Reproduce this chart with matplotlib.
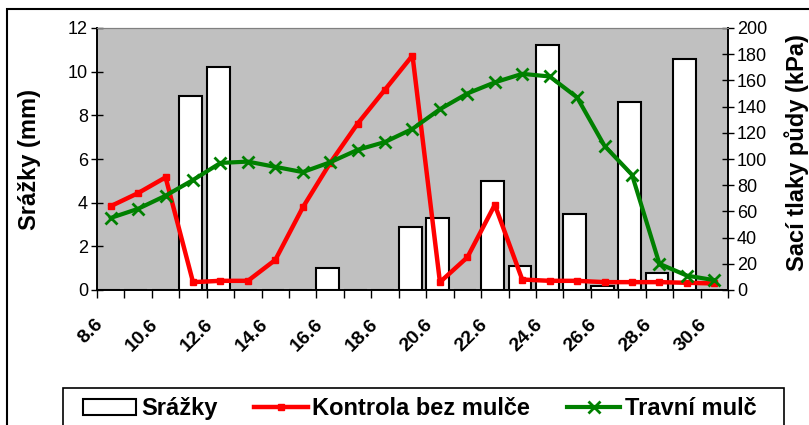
import matplotlib.pyplot as plt
from matplotlib.patches import Rectangle, Patch
from matplotlib.lines import Line2D
from matplotlib.transforms import ScaledTranslation

plt.rcParams['font.family'] = ['Liberation Sans', 'DejaVu Sans']

# dny (8.6. - 30.6.)
dates = ['8.6', '9.6', '10.6', '11.6', '12.6', '13.6', '14.6', '15.6', '16.6', '17.6',
         '18.6', '19.6', '20.6', '21.6', '22.6', '23.6', '24.6', '25.6', '26.6', '27.6',
         '28.6', '29.6', '30.6']

# srazky (mm)
srazky = [0, 0, 0, 8.9, 10.2, 0, 0, 0, 1.0, 0, 0, 2.9, 3.3, 0, 5.0, 1.1, 11.2, 3.5,
          0.2, 8.6, 0.8, 10.6, 0]

# saci tlaky (kPa)
kontrola = [64, 74, 86, 6, 7, 7, 23, 63, 97, 127, 153, 179, 6, 25, 65, 8, 7, 7,
            6, 6, 6, 5.5, 5]
travni = [55, 62, 72, 84, 97, 98, 94, 90, 97.5, 107, 113, 123, 138, 150, 158.5, 165,
          163, 147, 110, 88, 20, 11, 7.5]

x = list(range(len(dates)))

fig = plt.figure(figsize=(8.09, 4.25), dpi=100)
ax = fig.add_axes([97/809, 1 - 290/425, 631/809, 262/425])
ax2 = ax.twinx()

# bars (left axis)
ax.bar([i - 0.085 for i in x], srazky, width=0.83, color='white', edgecolor='black',
       linewidth=1.5, zorder=2)
ax.set_facecolor('#C0C0C0')
ax.set_xlim(-0.5, len(dates) - 0.5)
ax.set_ylim(0, 12)
ax.set_yticks(range(0, 13, 2))

# lines (right axis)
ax2.plot(x, kontrola, color='#FF0000', lw=3.2, marker='s', ms=5, zorder=3)
ax2.plot(x, travni, color='#008000', lw=3.0, marker='x', ms=9, mew=2, zorder=4)
ax2.set_ylim(0, 200)
ax2.set_yticks(range(0, 201, 20))

# osa x - carky na hranicich dnu, popisky kazdy druhy den
ax.set_xticks([i - 0.5 for i in x] + [len(dates) - 0.5])
ax.set_xticks(x[::2], labels=dates[::2], minor=True)
ax.tick_params(axis='x', which='major', direction='out', length=6, width=1, labelbottom=False)
ax.tick_params(axis='x', which='minor', length=0, pad=23)
for lab in ax.get_xticklabels(minor=True):
    lab.set_rotation(45)
    lab.set_ha('right')
    lab.set_va('center')
    lab.set_rotation_mode('anchor')
    lab.set_fontweight('bold')
    lab.set_fontsize(14)
    lab.set_transform(lab.get_transform() + ScaledTranslation(-0.1, 0, fig.dpi_scale_trans))

ax.tick_params(axis='y', direction='inout', length=9, width=1, labelsize=13, pad=2)
ax2.tick_params(axis='y', direction='inout', length=9, width=1, labelsize=13, pad=2)

for a in (ax, ax2):
    a.spines['top'].set_color('#808080')
    a.spines['left'].set_linewidth(1.2)
    a.spines['right'].set_linewidth(1.2)
    a.spines['bottom'].set_linewidth(1.2)

ax.set_ylabel('Srážky (mm)', fontsize=17, fontweight='bold')
ax.yaxis.set_label_coords(-0.089, 0.5)
ax2.set_ylabel('Sací tlaky půdy (kPa)', fontsize=17, fontweight='bold', rotation=90)
ax2.yaxis.set_label_coords(1.089, 0.525)

# ramecek grafu a legendy
fig.patches.append(Rectangle((7/809, -0.2), 1.0, 0.978 + 0.2, transform=fig.transFigure,
                             fill=False, edgecolor='black', lw=1.5, clip_on=False))
fig.patches.append(Rectangle((63/809, -0.1), (784-63)/809, 0.1 + 1 - 388/425,
                             transform=fig.transFigure, fill=False, edgecolor='black',
                             lw=1.2, clip_on=False))

handles = [Patch(facecolor='white', edgecolor='black', linewidth=1.5),
           Line2D([], [], color='#FF0000', lw=3.2, marker='s', ms=5),
           Line2D([], [], color='#008000', lw=3.0, marker='x', ms=9, mew=2)]
fig.legend(handles, ['Srážky', 'Kontrola bez mulče', 'Travní mulč'],
           loc='upper left', bbox_to_anchor=(76/809, 1 - 390/425),
           ncol=3, frameon=False, prop={'weight': 'bold', 'size': 17},
           handlelength=2.25, handletextpad=0.2, columnspacing=1.57,
           borderpad=0.3, borderaxespad=0)

fig.savefig('out.png', dpi=100)
